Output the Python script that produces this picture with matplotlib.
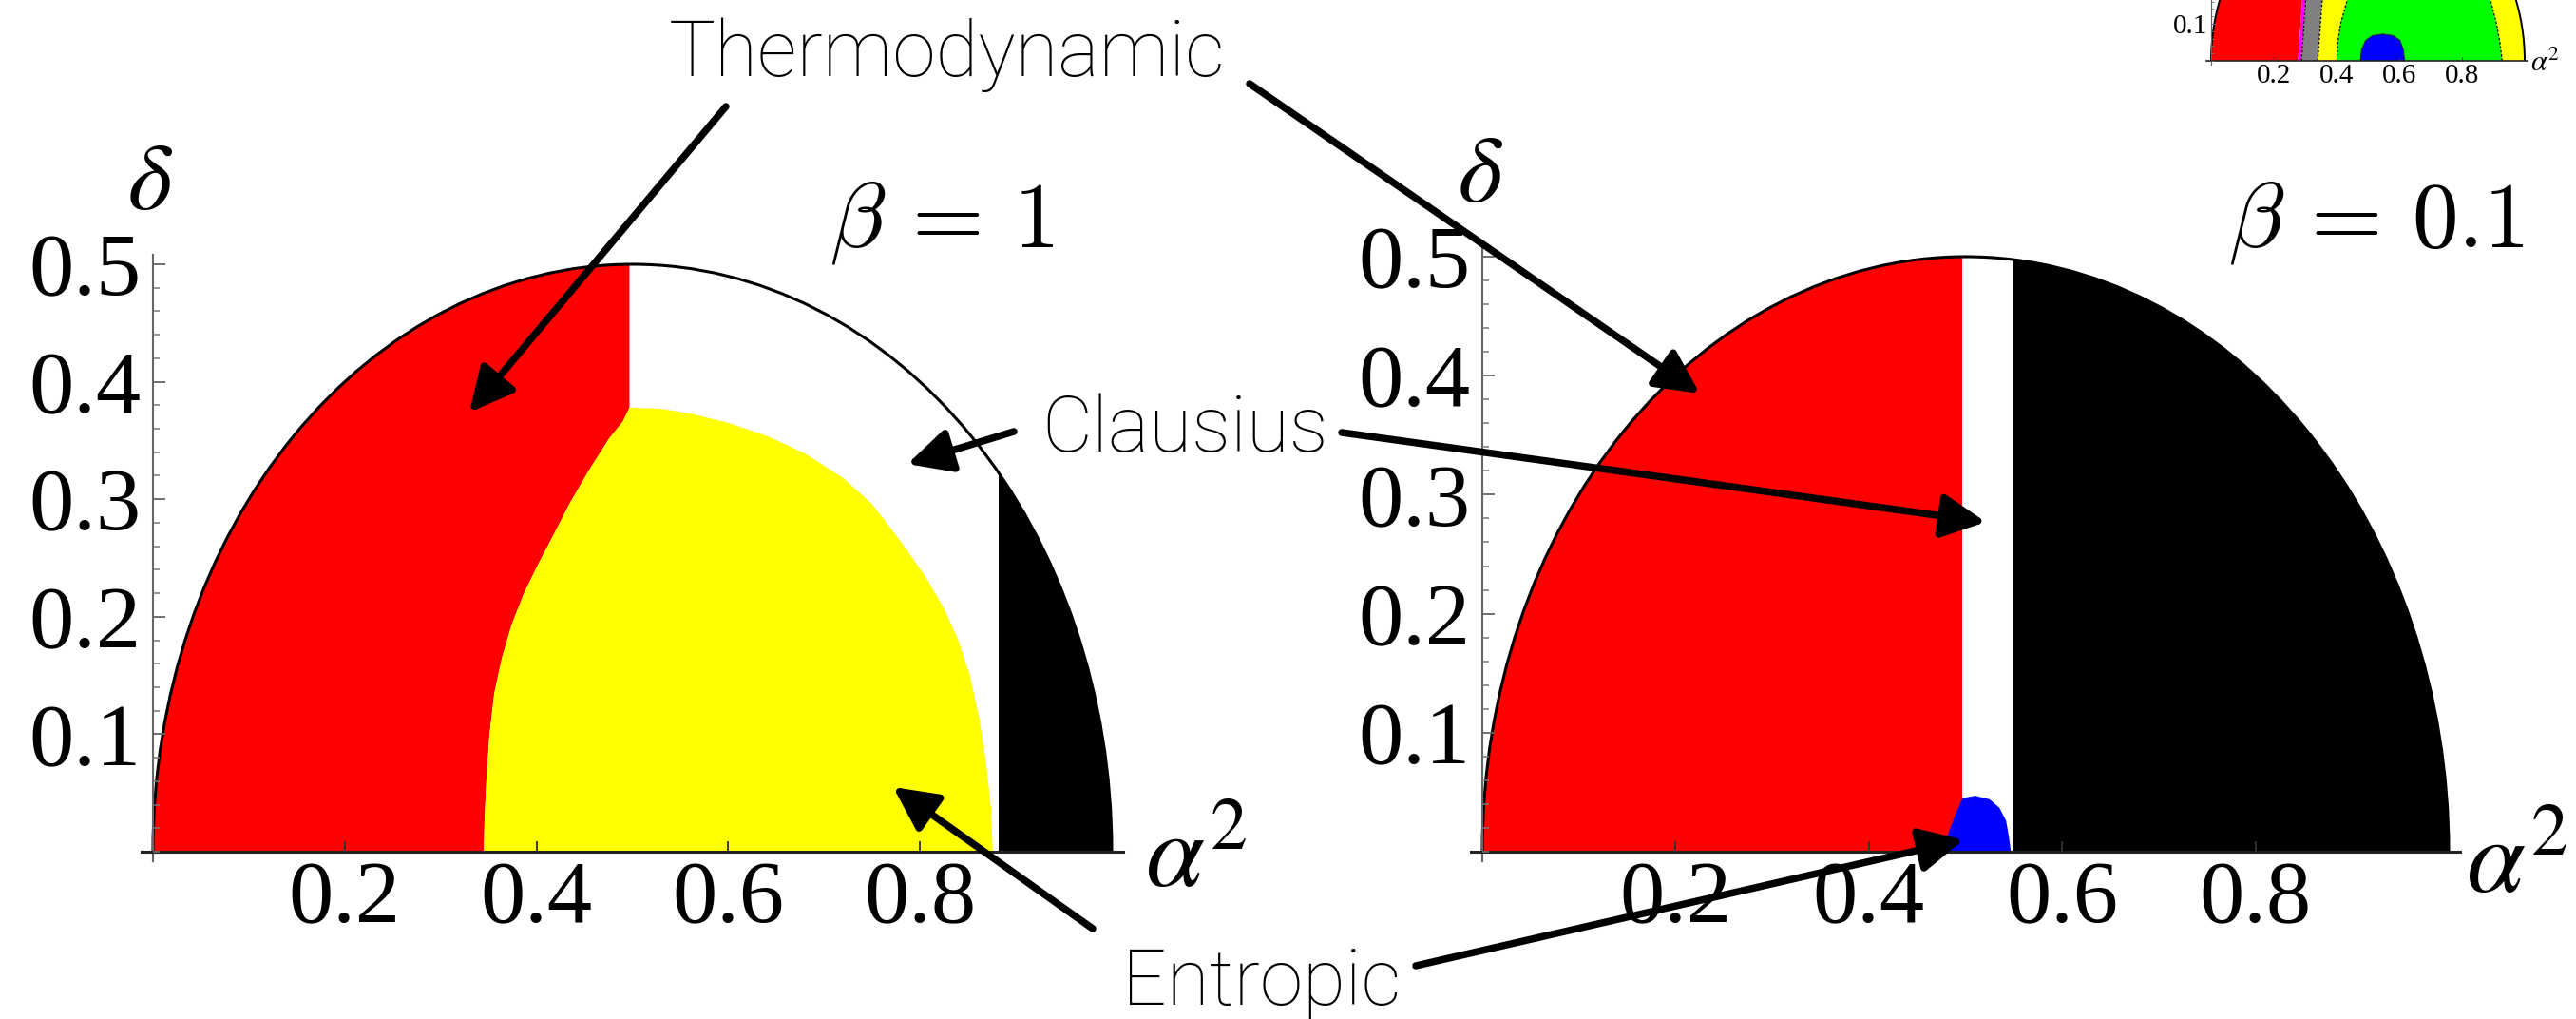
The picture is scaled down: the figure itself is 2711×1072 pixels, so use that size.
import matplotlib
matplotlib.use("Agg")
import matplotlib.pyplot as plt
from matplotlib.patches import Polygon, Wedge, Arc
from matplotlib.ticker import MultipleLocator

W, H, DPI = 2711, 1072, 100

plt.rcParams['font.family'] = ['Liberation Serif', 'DejaVu Serif']

# beta = 1 : region boundaries as (alpha^2, delta)
b1_red_edge = 0.497
b1_black_edge = 0.882
b1_yellow_left_a2 = [0.345, 0.346, 0.348, 0.351, 0.356, 0.364, 0.374, 0.387,
                     0.402, 0.418, 0.435, 0.455, 0.476, 0.490, 0.497]
b1_yellow_left_d = [0.000, 0.030, 0.065, 0.100, 0.135, 0.165, 0.193, 0.220,
                    0.245, 0.270, 0.297, 0.325, 0.352, 0.366, 0.378]
b1_yellow_top_a2 = [0.497, 0.530, 0.560, 0.600, 0.640, 0.680, 0.720, 0.750, 0.780,
                    0.805, 0.825, 0.840, 0.852, 0.862, 0.869, 0.874, 0.876]
b1_yellow_top_d = [0.378, 0.377, 0.373, 0.365, 0.354, 0.339, 0.318, 0.296, 0.264,
                   0.235, 0.207, 0.180, 0.150, 0.113, 0.075, 0.037, 0.000]

# beta = 0.1
b01_red_edge = 0.497
b01_black_edge = 0.549
b01_blue_a2 = [0.478, 0.482, 0.490, 0.497, 0.510, 0.525, 0.535, 0.542, 0.545, 0.547]
b01_blue_d = [0.000, 0.015, 0.032, 0.045, 0.047, 0.044, 0.037, 0.026, 0.012, 0.000]

# cut-off panel in the corner
in_edge_d = [0.0, 0.17]
in_red_a2 = [0.277, 0.291]
in_magenta_a2 = [0.288, 0.302]
in_gray_a2 = [0.340, 0.355]
in_green_d = [0.0, 0.05, 0.10, 0.17]
in_green_left_a2 = [0.401, 0.404, 0.413, 0.436]
in_green_right_a2 = [0.928, 0.921, 0.910, 0.889]
in_blue_a2 = [0.476, 0.480, 0.493, 0.515, 0.547, 0.580, 0.602, 0.613, 0.617]
in_blue_d = [0.000, 0.030, 0.055, 0.068, 0.072, 0.068, 0.055, 0.030, 0.000]

main_xticks = [0.2, 0.4, 0.6, 0.8]
main_yticks = [0.1, 0.2, 0.3, 0.4, 0.5]
inset_yticks = [0.1]

fig = plt.figure(figsize=(W / DPI, H / DPI), dpi=DPI)


def place_axes(px0, px1, py0, py1, xlim, ylim, yref=0.5):
    # px0/px1: pixel x of alpha^2 = 0 and 1, py0/py1: pixel y (from top) of delta = 0 and yref
    sx = px1 - px0
    sy = (py0 - py1) / yref
    left = px0 + xlim[0] * sx
    right = px0 + xlim[1] * sx
    bottom = py0 - ylim[0] * sy
    top = py0 - ylim[1] * sy
    ax = fig.add_axes([left / W, 1 - bottom / H, (right - left) / W, (bottom - top) / H])
    ax.set_xlim(*xlim)
    ax.set_ylim(*ylim)
    ax.patch.set_visible(False)
    return ax


def style_axes(ax, yticks, size, major, minor, ypad, xpad, lw):
    ax.spines['top'].set_visible(False)
    ax.spines['right'].set_visible(False)
    ax.spines['left'].set_position(('data', 0))
    ax.spines['bottom'].set_position(('data', 0))
    ax.spines['left'].set_color('#666666')
    ax.spines['left'].set_linewidth(lw * 0.7)
    ax.spines['bottom'].set_color('#222222')
    ax.spines['bottom'].set_linewidth(lw)
    ax.set_xticks(main_xticks, labels=[f'{v:.1f}' for v in main_xticks])
    ax.set_yticks(yticks, labels=[f'{v:.1f}' for v in yticks])
    ax.yaxis.set_minor_locator(MultipleLocator(0.02))
    ax.tick_params(axis='y', which='major', direction='in', length=major, width=lw * 0.6,
                   color='#666666', pad=ypad, labelsize=size)
    ax.tick_params(axis='y', which='minor', direction='in', length=minor, width=lw * 0.5,
                   color='#777777')
    ax.tick_params(axis='x', which='major', direction='in', length=major * 0.9, width=lw * 0.6,
                   color='#333333', pad=xpad, labelsize=size)
    ax.set_axisbelow(False)


def domain(ax):
    return Wedge((0.5, 0), 0.5, 0, 180, transform=ax.transData)


def region(ax, pts, color, **kw):
    p = Polygon(pts, closed=True, facecolor=color, edgecolor='none', zorder=1, **kw)
    ax.add_patch(p)
    p.set_clip_path(domain(ax))
    return p


def outline(ax, lw):
    ax.add_patch(Arc((0.5, 0), 1.0, 1.0, theta1=0, theta2=180, color='black', lw=lw, zorder=2))


# ---- beta = 1 ----
ax1 = place_axes(161, 1170, 896, 278, (-0.012, 1.012), (-0.008, 0.508))
yl = list(zip(b1_yellow_left_a2, b1_yellow_left_d))
yt = list(zip(b1_yellow_top_a2, b1_yellow_top_d))
region(ax1, [(-0.05, 0)] + yl + [(b1_red_edge, 0.6), (-0.05, 0.6)], '#ff0000')
region(ax1, yl + yt[1:], '#ffff00')
region(ax1, [(b1_black_edge, 0), (b1_black_edge, 0.6), (1.05, 0.6), (1.05, 0)], 'black')
outline(ax1, 2.2)
style_axes(ax1, main_yticks, 68, 9, 5, 9, 7, 2.2)

# ---- beta = 0.1 ----
ax2 = place_axes(1560, 2577, 896, 270, (-0.012, 1.012), (-0.008, 0.508))
region(ax2, [(-0.05, 0), (b01_red_edge, 0), (b01_red_edge, 0.6), (-0.05, 0.6)], '#ff0000')
region(ax2, [(b01_black_edge, 0), (b01_black_edge, 0.6), (1.05, 0.6), (1.05, 0)], 'black')
region(ax2, list(zip(b01_blue_a2, b01_blue_d)), '#0000ff')
outline(ax2, 2.2)
style_axes(ax2, main_yticks, 68, 9, 5, 9, 7, 2.2)

# ---- corner panel ----
ax3 = place_axes(2327, 2657, 64, 25, (-0.015, 1.01), (-0.01, 0.164), yref=0.1)


def strip(a_left, a_right):
    return [(a_left[0], in_edge_d[0]), (a_left[1], in_edge_d[1]),
            (a_right[1], in_edge_d[1]), (a_right[0], in_edge_d[0])]


region(ax3, strip([-0.05, -0.05], in_red_a2), '#ff0000')
region(ax3, strip(in_red_a2, in_magenta_a2), '#ff00ff')
region(ax3, strip(in_magenta_a2, in_gray_a2), '#808080')
region(ax3, strip(in_gray_a2, [1.05, 1.05]), '#ffff00')
green = list(zip(in_green_left_a2, in_green_d)) + list(zip(in_green_right_a2, in_green_d))[::-1]
region(ax3, green, '#00ff00')
blue = region(ax3, list(zip(in_blue_a2, in_blue_d)), '#0000ff')
blue.set_edgecolor('#222244')
blue.set_linewidth(0.8)
for xs in (in_magenta_a2, in_gray_a2):
    ax3.plot(xs, in_edge_d, color='black', lw=0.9, ls=(0, (2, 1.5)), zorder=1.5)
ax3.plot(in_green_left_a2, in_green_d, color='black', lw=0.9, ls=(0, (2, 1.5)), zorder=1.5)
ax3.plot(in_green_right_a2, in_green_d, color='black', lw=0.9, ls=(0, (2, 1.5)), zorder=1.5)
outline(ax3, 1.4)
style_axes(ax3, inset_yticks, 21, 3.5, 2, 3, 2, 1.2)

# ---- overlay: labels and arrows in pixel space ----
ov = fig.add_axes([0, 0, 1, 1])
ov.set_xlim(0, W)
ov.set_ylim(H, 0)
ov.set_axis_off()
ov.patch.set_visible(False)

sans = dict(family=['Roboto', 'DejaVu Sans'], fontweight='light', fontsize=59,
            ha='center', va='baseline', color='black')
ov.text(997, 80, 'Thermodynamic', **sans)
ov.text(1247, 475, 'Clausius', **sans)
ov.text(1328, 1057, 'Entropic', **sans)

ov.text(873, 260, r'$\beta\,=\,1$', fontsize=70, math_fontfamily='cm', ha='left', va='baseline')
ov.text(2345, 260, r'$\beta\,=\,0.1$', fontsize=70, math_fontfamily='cm', ha='left', va='baseline')

ov.text(158, 196, r'$\delta$', fontsize=72, math_fontfamily='stix', ha='center', va='center')
ov.text(1558, 188, r'$\delta$', fontsize=72, math_fontfamily='stix', ha='center', va='center')
ov.text(1205, 932, r'$\alpha^2$', fontsize=80, math_fontfamily='stix', ha='left', va='baseline')
ov.text(2595, 938, r'$\alpha^2$', fontsize=80, math_fontfamily='stix', ha='left', va='baseline')
ov.text(2663, 75, r'$\alpha^2$', fontsize=22, math_fontfamily='stix', ha='left', va='baseline')

arrow_style = dict(arrowstyle='-|>,head_length=1.4,head_width=0.7', lw=5.4, color='black',
                   mutation_scale=20, shrinkA=0, shrinkB=0)
arrows = [
    (ax1, (0.330, 0.374), (764, 112)),
    (ax2, (0.225, 0.385), (1315, 88)),
    (ax1, (0.787, 0.330), (1067, 454)),
    (ax2, (0.521, 0.277), (1412, 455)),
    (ax1, (0.772, 0.055), (1150, 977)),
    (ax2, (0.498, 0.010), (1490, 1016)),
]
for ax, tip, tail in arrows:
    ov.annotate('', xy=tip, xycoords=ax.transData, xytext=tail, textcoords='data',
                arrowprops=arrow_style)

fig.savefig('out.png', dpi=DPI)
